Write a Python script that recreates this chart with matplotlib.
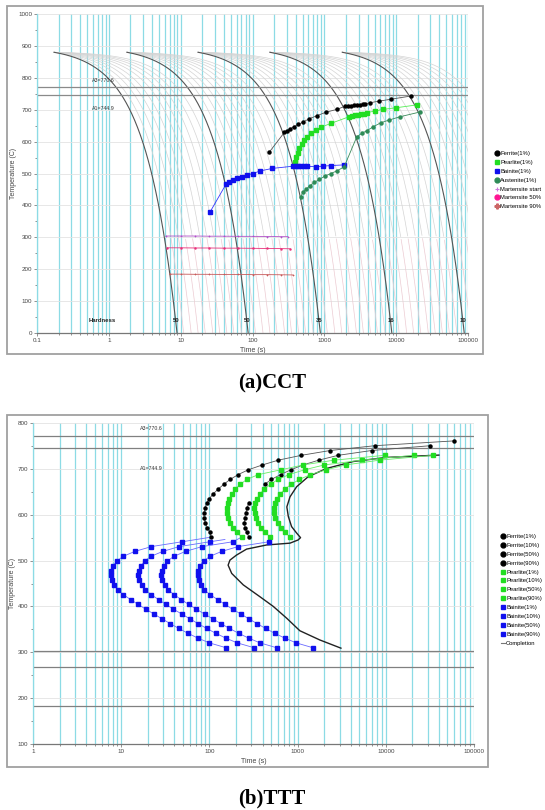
import numpy as np
import matplotlib.pyplot as plt
from matplotlib.lines import Line2D
from matplotlib.patches import Rectangle
from matplotlib.ticker import FixedLocator, MultipleLocator, NullFormatter, FuncFormatter

plt.rcParams['font.family'] = ['Liberation Sans', 'DejaVu Sans']

# ---------------- CCT data ----------------
cool_T0 = 880
cool_start = [0.173, 1.79, 17.5, 175, 1780]        # time at 880 C for each family
cool_end = [8.9, 87, 880, 8700, 88600]             # dark curve reaches 0 C
light_ends = [
    [11, 14, 17.5, 22, 28, 35, 44, 55, 70],
    [110, 140, 175, 220, 280, 350, 440, 550, 700],
    [1100, 1400, 1750, 2200, 2800, 3500, 4400, 5500, 7000],
    [11000, 14000, 17500, 22000, 28000, 35000, 44000, 55000, 70000],
    [110000, 140000, 175000, 220000, 280000, 350000, 440000, 550000, 700000],
]
hardness = ['50', '50', '35', '16', '10']

fa_t = [170, 278, 300, 334, 380, 436, 512, 621, 786, 1049, 1494, 1950, 2150, 2350,
        2600, 2850, 3100, 3400, 3700, 4350, 5860, 8510, 16200]
fa_T = [566, 629, 634, 640, 647, 654, 662, 672, 681, 692, 701, 711, 712, 713,
        714, 715, 716, 717, 718, 722, 727, 733, 743]
pa_t = [396, 405, 427, 450, 486, 528, 581, 654, 760, 893, 1231, 2213, 2450, 2700,
        2950, 3250, 3600, 3945, 5100, 6590, 9900, 19400]
pa_T = [537, 551, 565, 579, 592, 605, 615, 626, 636, 645, 657, 678, 680, 682,
        684, 686, 688, 691, 696, 701, 706, 715]
ba_t = [25.6, 42.9, 47.7, 54.3, 61.7, 71, 83, 101, 128, 189, 372, 400, 430, 470,
        520, 570, 769, 953, 1257, 1888]
ba_T = [379, 467, 474, 480, 485, 490, 495, 500, 508, 516, 523, 523, 523, 523,
        523, 523, 521, 523, 525, 527]
aa_t = [470, 501, 557, 634, 728, 855, 1026, 1230, 1493, 1888, 2830, 3325, 3900,
        4830, 6120, 8060, 11370, 21600]
aa_T = [427, 441, 451, 462, 472, 482, 492, 500, 508, 521, 615, 626, 634,
        647, 659, 668, 678, 693]
ms_t = [6.3, 10, 16, 25, 40, 63, 100, 160, 250, 310]
ms_T = [304, 304, 304, 303.5, 303.5, 303, 303, 302.5, 302, 302]
m50_t = [6.5, 10, 16, 25, 40, 63, 100, 160, 250, 334]
m50_T = [267, 267, 266.5, 266.5, 266, 266, 265.5, 265, 264.5, 264]
m90_t = [7, 10, 16, 25, 40, 63, 100, 160, 250, 364]
m90_T = [184.5, 184.5, 184, 184, 183.5, 183.5, 183, 183, 182.5, 182]

A3, A1 = 770.6, 744.9

# ---------------- TTT data ----------------
grid_up = [551, 561.5, 572, 582.5, 593, 603.5, 614, 624.5, 635, 645.5, 656,
           666.5, 677, 687.5, 698, 708.5, 719, 729.5, 740, 750.5, 761]
f1_t = [104, 101.6, 94.6, 89.7, 87.3, 86.6, 89, 93, 99.7, 110.6, 126, 146, 172,
        212, 276, 398, 605, 1100, 2340, 7500, 59600]
f10_t = [281, 264, 253, 250, 252, 258, 266, 278, np.nan, np.nan, np.nan, 425, 505,
         640, 840, 1150, 1740, 2880, 6900, 32000]
p1_t = [232, 205, 185, 170, 162, 158, 158, 162, 168, 180, 196, 225, 265, 360,
        648, 1150, 2600, 9700]
p10_t = [487, 430, 385, 352, 335, 325, 323, 330, 347, 375, 420, 495, 600, 800,
         1200, 2000, 5330, 20700]
p50_t = [820, 725, 650, 595, 560, 545, 541, 552, 585, 635, 720, 850, 1050, 1400,
         2100, 3500, 8500, 34600]

grid_dn = [541, 530.5, 520, 509.5, 499, 488.5, 478, 467.5, 457, 446.5, 436, 425.5,
           415, 404.5, 394, 383.5, 373, 362.5, 352, 341.5, 331, 320.5, 310]
b1_t = [49, 22, 14.3, 10.6, 8.9, 8.1, 7.7, 7.6, 7.8, 8.3, 9.1, 10.6, 12.8, 15.5,
        19, 23.5, 29, 36, 45, 57, 74, 100, 154]
b10_t = [101, 45.5, 29.6, 21.9, 18.4, 16.8, 15.9, 15.7, 16.1, 17.2, 18.8, 21.9,
         26.5, 32, 39, 48.6, 60, 74.5, 93, 118, 153, 207, 320]
b50_t = [184, 82.5, 53.6, 39.8, 33.4, 30.4, 28.9, 28.5, 29.3, 31.1, 34.1, 39.8,
         48, 58, 71, 88, 109, 135, 169, 214, 278, 375, 577]
b90_t = [473, 212, 138, 102, 86, 78.2, 74.3, 73.3, 75.3, 80.1, 87.8, 102, 124,
         150, 183, 227, 280, 347, 434, 550, 714, 965, 1486]
# where the top of each bainite curve joins the curve above it
b_join_t = [104, 150, 232, 487]
b_join_T = [551, 546, 551, 551]

comp_t = [40000, 10200, 4270, 2140, 1320, 975, 820, 755, 785, 855, 975, 1080, 1015,
          820, 445, 264, 203, 171, 163, 179, 242, 375, 530, 755, 1060, 1780, 3100]
comp_T = [730, 725, 716, 701, 683, 661, 639, 617, 596, 574, 560, 550, 545,
          538, 534, 525, 512, 501, 490, 472, 447, 421, 400, 374, 347, 327, 309]
mart_lines = [303, 267, 182]

# ---------------- figure ----------------
W, H = 545, 810
fig = plt.figure(figsize=(W / 100, H / 100), dpi=100)
axa = fig.add_axes([37 / W, 1 - 333 / H, 431 / W, 319 / H])
axb = fig.add_axes([33 / W, 1 - 744 / H, 441 / W, 321 / H])

for (x0, y0, x1, y1) in [(7, 6, 483, 354), (7, 415, 488, 767)]:
    fig.patches.append(Rectangle((x0 / W, 1 - y1 / H), (x1 - x0) / W, (y1 - y0) / H,
                                 transform=fig.transFigure, fill=False,
                                 ec='#a0a0a0', lw=1.3))

cyan = '#8cdbe5'


def style(ax, decades, ylim, ystep):
    lo, hi = decades
    major = [10.0 ** e for e in range(lo, hi + 1)]
    minor = [k * 10.0 ** e for e in range(lo, hi) for k in range(2, 10)]
    ax.set_xscale('log')
    ax.set_xlim(major[0], major[-1])
    ax.set_ylim(*ylim)
    ax.xaxis.set_major_locator(FixedLocator(major))
    ax.xaxis.set_minor_locator(FixedLocator(minor))
    ax.xaxis.set_minor_formatter(NullFormatter())
    ax.xaxis.set_major_formatter(FuncFormatter(lambda v, p: f'{v:g}'))
    ax.yaxis.set_major_locator(FixedLocator(np.arange(ylim[0], ylim[1] + 1, ystep)))
    ax.yaxis.set_minor_locator(FixedLocator(np.arange(ylim[0] + ystep / 2, ylim[1], ystep)))
    ax.set_axisbelow(True)
    ax.grid(True, which='both', axis='x', color=cyan, lw=0.9)
    ax.grid(True, which='major', axis='y', color='#e3e3e3', lw=0.6)
    for s in ['top', 'right']:
        ax.spines[s].set_visible(False)
    ax.spines['left'].set_color(cyan)
    ax.spines['bottom'].set_color('#777777')
    ax.spines['left'].set_linewidth(0.9)
    ax.spines['bottom'].set_linewidth(0.9)
    ax.tick_params(which='both', labelsize=4.5, colors='#666666', length=2, width=0.5,
                   pad=1.5, labelcolor='#444444')
    ax.tick_params(which='minor', length=1.5)
    ax.set_ylabel('Temperature (C)', fontsize=5, color='#444444', labelpad=1)
    ax.set_xlabel('Time (s)', fontsize=5, color='#444444', labelpad=3)


style(axa, (-1, 5), (0, 1000), 100)
style(axb, (0, 5), (100, 800), 100)

# ---- CCT cooling curves ----
for g in range(5):
    t0 = cool_start[g]
    for te in light_ends[g]:
        tt = np.geomspace(t0, te, 300)
        TT = cool_T0 * (te - tt) / (te - t0)
        hi = TT >= 300
        axa.plot(tt[hi], TT[hi], color='#d4d4d4', lw=0.5, zorder=1)
        axa.plot(tt[TT <= 302], TT[TT <= 302], color='#eccbd2', lw=0.5, zorder=1)
    tt = np.geomspace(t0, cool_end[g], 300)
    axa.plot(tt, cool_T0 * (cool_end[g] - tt) / (cool_end[g] - t0),
             color='#555555', lw=0.8, zorder=2)
    axa.text(cool_end[g] * 0.96, 38, hardness[g], fontsize=4.3, fontweight='bold',
             ha='center', va='center', color='#222222', zorder=5)
axa.text(0.8, 38, 'Hardness', fontsize=4.3, fontweight='bold', ha='center',
         va='center', color='#222222', zorder=5)

for lvl in (A3, A1):
    axa.axhline(lvl, color='#8a8a8a', lw=0.9, zorder=2)
axa.text(0.58, 793, 'A3=770.6', fontsize=3.8, color='#333333', va='center')
axa.text(0.58, 705, 'A1=744.9', fontsize=3.8, color='#333333', va='center')

axa.plot(ms_t, ms_T, color='#b050c8', lw=0.6, marker='+', ms=2, mew=0.5, zorder=3)
axa.plot(m50_t, m50_T, color='#e8307a', lw=0.6, marker='.', ms=1.5, zorder=3)
axa.plot(m90_t, m90_T, color='#c85a5a', lw=0.6, marker='+', ms=2, mew=0.5, zorder=3)
axa.plot(fa_t, fa_T, color='#555555', lw=0.6, marker='o', ms=2.2, mfc='black',
         mec='black', zorder=4)
axa.plot(pa_t, pa_T, color='#55ee55', lw=0.6, marker='s', ms=2.4, mfc='#22dd22',
         mec='#22dd22', zorder=4)
axa.plot(ba_t, ba_T, color='#3333ff', lw=0.6, marker='s', ms=2.3, mfc='#1010ee',
         mec='#1010ee', zorder=4)
axa.plot(aa_t, aa_T, color='#3a8a5a', lw=0.6, marker='o', ms=2.2, mfc='#2e8b57',
         mec='#2e8b57', zorder=4)

leg_a = [Line2D([], [], ls='none', marker='o', ms=3.5, color='black', label='Ferrite(1%)'),
         Line2D([], [], ls='none', marker='s', ms=3.5, color='#22dd22', label='Pearlite(1%)'),
         Line2D([], [], ls='none', marker='s', ms=3.5, color='#1010ee', label='Bainite(1%)'),
         Line2D([], [], ls='none', marker='o', ms=3.5, color='#2e8b57', label='Austenite(1%)'),
         Line2D([], [], ls='none', marker='+', ms=3.5, mew=0.8, color='#cc77dd', label='Martensite start'),
         Line2D([], [], ls='none', marker='o', ms=3.5, color='#ff1493', label='Martensite 50%'),
         Line2D([], [], ls='none', marker='P', ms=3.5, color='#cc6666', label='Martensite 90%')]
fig.legend(handles=leg_a, loc='upper left', bbox_to_anchor=(495 / W, 1 - 151 / H),
           frameon=False, fontsize=4.2, handlelength=0.6, handletextpad=0.3,
           labelspacing=0.65, borderpad=0, borderaxespad=0)

# ---- TTT ----
for lvl in [A3, A1] + mart_lines:
    axb.axhline(lvl, color='#808080', lw=0.9, zorder=2)
axb.text(16.3, 789, 'A3=770.6', fontsize=3.8, color='#333333', va='center')
axb.text(16.3, 700, 'A1=744.9', fontsize=3.8, color='#333333', va='center')

axb.plot(comp_t, comp_T, color='#222222', lw=1.0, zorder=3)
for tl in [f1_t, f10_t]:
    axb.plot(tl, grid_up[:len(tl)], color='#555555', lw=0.6, marker='o', ms=2.2,
             mfc='black', mec='black', zorder=4)
for tl in [p1_t, p10_t, p50_t]:
    axb.plot(tl, grid_up[:len(tl)], color='#66ee66', lw=0.6, marker='s', ms=2.4,
             mfc='#22dd22', mec='#22dd22', zorder=4)
for k, tl in enumerate([b1_t, b10_t, b50_t, b90_t]):
    axb.plot([b_join_t[k], tl[0]], [b_join_T[k], grid_dn[0]], color='#6a6aff',
             lw=0.6, zorder=3)
    axb.plot(tl, grid_dn, color='#6a6aff', lw=0.6, marker='s', ms=2.3,
             mfc='#1010ee', mec='#1010ee', zorder=4)

leg_b = []
for pct in ['1%', '10%', '50%', '90%']:
    leg_b.append(Line2D([], [], ls='none', marker='o', ms=3.5, color='black', label=f'Ferrite({pct})'))
for pct in ['1%', '10%', '50%', '90%']:
    leg_b.append(Line2D([], [], ls='none', marker='s', ms=3.5, color='#22dd22', label=f'Pearlite({pct})'))
for pct in ['1%', '10%', '50%', '90%']:
    leg_b.append(Line2D([], [], ls='none', marker='s', ms=3.5, color='#1010ee', label=f'Bainite({pct})'))
leg_b.append(Line2D([], [], color='#777777', lw=0.8, label='Completion'))
fig.legend(handles=leg_b, loc='upper left', bbox_to_anchor=(501 / W, 1 - 534 / H),
           frameon=False, fontsize=4.2, handlelength=0.6, handletextpad=0.3,
           labelspacing=0.65, borderpad=0, borderaxespad=0)

fig.text(272 / W, 1 - 383 / H, '(a)CCT', fontsize=15, fontweight='bold',
         family='Liberation Serif', ha='center', va='center')
fig.text(272 / W, 1 - 798 / H, '(b)TTT', fontsize=15, fontweight='bold',
         family='Liberation Serif', ha='center', va='center')

fig.savefig('out.png', dpi=100)
